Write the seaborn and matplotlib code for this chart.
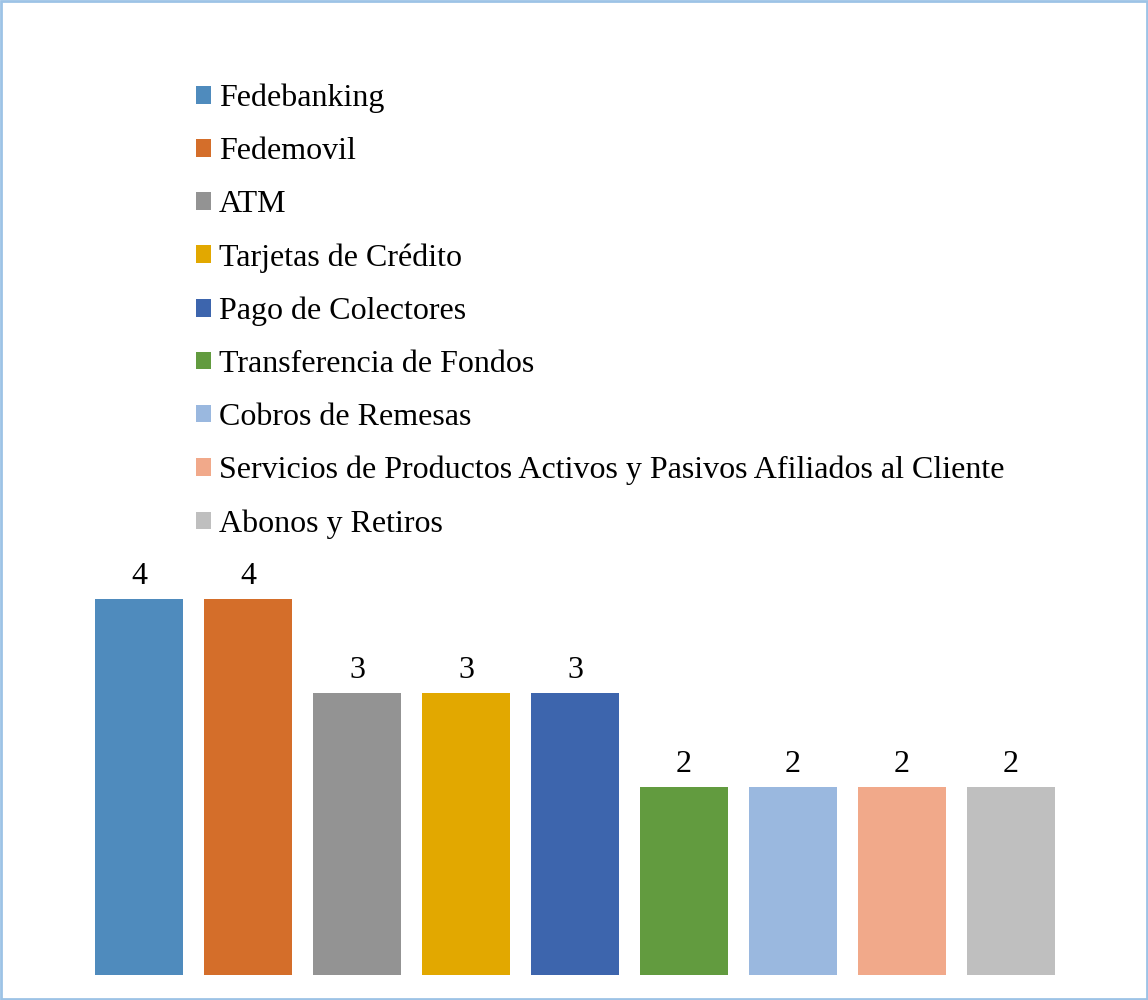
import matplotlib
matplotlib.use("Agg")
import matplotlib.pyplot as plt
import seaborn as sns
import pandas as pd
from matplotlib.patches import Patch, Rectangle

categories = ["Fedebanking", "Fedemovil", "ATM", "Tarjetas de Crédito",
              "Pago de Colectores", "Transferencia de Fondos", "Cobros de Remesas",
              "Servicios de Productos Activos y Pasivos Afiliados al Cliente",
              "Abonos y Retiros"]
values = [4, 4, 3, 3, 3, 2, 2, 2, 2]
colors = ["#4F8BBD", "#D46E2A", "#939393", "#E2A800", "#3D65AD",
          "#629B3F", "#9AB8DF", "#F1A98A", "#BFBFBF"]

sns.set_theme(style="white")
plt.rcParams['font.family'] = ['Liberation Serif', 'DejaVu Serif']
plt.rcParams['text.color'] = '#000000'

W, H = 1148, 1000
fig = plt.figure(figsize=(W / 100, H / 100), dpi=100)
left, right, bottom, top = 84.5, 1065.5, 975, 560
ax = fig.add_axes([left / W, 1 - bottom / H, (right - left) / W, (bottom - top) / H])

df = pd.DataFrame({"cat": categories, "val": values})
sns.barplot(data=df, x="cat", y="val", hue="cat", palette=colors, legend=False,
            width=0.807, ax=ax, saturation=1, linewidth=0)
ax.set_xlim(-0.5, 8.5)
ax.set_ylim(0, (bottom - top) / 94)
ax.axis("off")

for c in ax.containers:
    ax.bar_label(c, fmt="%d", padding=6, fontsize=23, color="#000000")

handles = [Patch(facecolor=col, edgecolor="none") for col in colors]
leg = fig.legend(handles, categories, loc="upper left",
                 bbox_to_anchor=(183 / W, 1 - 71 / H), frameon=False,
                 fontsize=23, handlelength=0.47, handleheight=0.47,
                 handletextpad=0.25, labelspacing=0.75, borderaxespad=0)
for t in leg.get_texts():
    t.set_color("#000000")

fig.patches.append(Rectangle((0.001, 0.001), 0.998, 0.998, transform=fig.transFigure,
                             fill=False, edgecolor="#9DC3E6", linewidth=2))

fig.savefig("out.png", dpi=100)
